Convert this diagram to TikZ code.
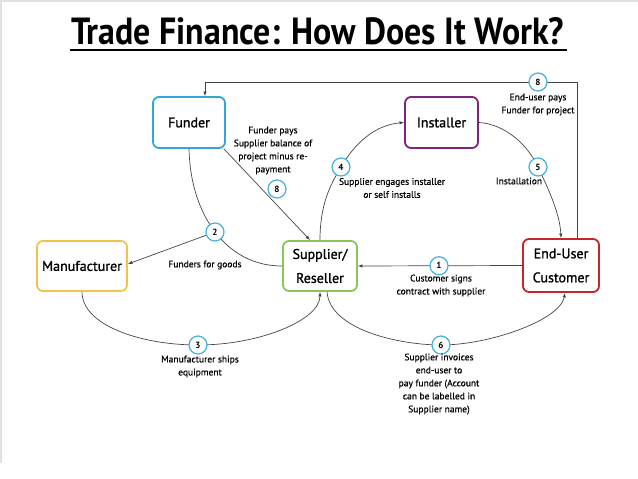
\documentclass[tikz,border=0pt]{standalone}
\usepackage{fontspec}
\usepackage{graphicx}
\setmainfont{PT Sans}
\newfontfamily\heavyfont[FakeBold=1.2]{PT Sans}
\newfontfamily\medfont[FakeBold=0.6]{PT Sans}
\usetikzlibrary{arrows.meta}
\definecolor{funderc}{RGB}{48,168,215}
\definecolor{installc}{RGB}{122,38,128}
\definecolor{manuc}{RGB}{240,196,72}
\definecolor{suppc}{RGB}{140,196,92}
\definecolor{endc}{RGB}{200,36,42}
\definecolor{circc}{RGB}{70,178,220}
\definecolor{linec}{RGB}{70,70,70}
\definecolor{framec}{RGB}{225,225,225}
\tikzset{
  box/.style={draw, rounded corners=6pt, line width=1.8pt, fill=white, align=center,
    font=\heavyfont\fontsize{14}{24}\selectfont, inner sep=0pt},
  num/.style={circle, draw=circc, line width=1.2pt, fill=white, minimum size=18pt,
    inner sep=0pt, font=\fontsize{9}{9}\selectfont\bfseries},
  lbl/.style={align=center, font=\medfont\fontsize{9.5}{13}\selectfont, inner sep=0pt},
  conn/.style={draw=linec, line width=0.7pt},
  arr/.style={-{Latex[length=4.5pt,width=3.5pt]}}
}
\begin{document}
\begin{tikzpicture}[x=1pt,y=-1pt]
\useasboundingbox (0,0) rectangle (638,479);
% frame
\draw[framec, line width=1.2pt] (1,463) -- (1,1) -- (638,1);
% title
\node[anchor=base west, inner sep=0pt] (title) at (71,45)
  {\resizebox{493pt}{27pt}{\bfseries Trade Finance: How Does It Work?}};
\coordinate (ul1) at (70,50);
\coordinate (ul2) at (567,50);
\draw[line width=2pt] (ul1) -- (ul2);
% boxes
\node[box, draw=funderc, minimum width=72pt, minimum height=51pt] (funder) at (189,122.5) {Funder};
\node[box, draw=installc, minimum width=73pt, minimum height=51pt] (installer) at (441.5,122.5) {Installer};
\node[box, draw=manuc, minimum width=90pt, minimum height=50pt] (manu) at (82,266) {Manufacturer};
\node[box, draw=suppc, minimum width=74pt, minimum height=50pt] (supp) at (320,266) {Supplier/\\Reseller};
\node[box, draw=endc, minimum width=76pt, minimum height=53pt] (enduser) at (561,265.5) {End-User\\Customer};
% circle positions
\coordinate (p1) at (439,265.75);
\coordinate (p2) at (215,232);
\coordinate (p3) at (198,345);
\coordinate (p4) at (341,167);
\coordinate (p5) at (538,167);
\coordinate (p6) at (441,345);
\coordinate (p8a) at (538,82);
\coordinate (p8b) at (277,189);
\coordinate (tr) at (577,82);
\coordinate (tl) at (205,82);
% connectors
\draw[conn] (funder.south) .. controls (190,185) and (200,212) .. (p2);
\draw[conn] (p2) .. controls (235,258) and (260,266) .. (supp.west);
\draw[conn,arr] (p2) -- ([yshift=2pt]manu.east);
\draw[conn,arr] ([xshift=-2pt]funder.south east) -- ([xshift=-10pt]supp.north);
\draw[conn,arr] (enduser.west) -- (supp.east);
\draw[conn,arr] (manu.south) .. controls (82,325) and (140,345) .. (p3)
  .. controls (260,345) and (320,320) .. (supp.south);
\draw[conn,arr] ([xshift=7pt]supp.south) .. controls (330,330) and (400,345) .. (p6)
  .. controls (490,345) and (560,320) .. ([xshift=4pt]enduser.south);
\draw[conn,arr] (supp.north) .. controls (320,205) and (330,185) .. (p4)
  .. controls (355,143) and (375,125) .. (installer.west);
\draw[conn,arr] (installer.east) .. controls (505,124) and (528,145) .. (p5)
  .. controls (550,192) and (560,215) .. (enduser.north);
\draw[conn,arr] ([xshift=16pt]enduser.north) -- (tr) -- (tl) -- ([xshift=16pt]funder.north);
% numbered circles
\node[num] (n1) at (p1) {1};
\node[num] (n2) at (p2) {2};
\node[num] (n3) at (p3) {3};
\node[num] (n4) at (p4) {4};
\node[num] (n5) at (p5) {5};
\node[num] (n6) at (p6) {6};
\node[num] (n8a) at (p8a) {8};
\node[num] (n8b) at (p8b) {8};
% labels
\node[lbl] (l8a) at (538,104.5) {End-user pays\\Funder for project};
\node[lbl] (l8b) at (273,150.5) {Funder pays\\Supplier balance of\\project minus re-\\payment};
\node[lbl] (l4) at (392,188) {Supplier engages installer\\or self installs};
\node[lbl] (l5) at (519,181) {Installation};
\node[lbl] (l2) at (205,265) {Funders for goods};
\node[lbl] (l1) at (441,285.5) {Customer signs\\contract with supplier};
\node[lbl] (l3) at (200,366.5) {Manufacturer ships\\equipment};
\node[lbl] (l6) at (439,384) {Supplier invoices\\end-user to\\pay funder (Account\\can be labelled in\\Supplier name)};
\end{tikzpicture}
\end{document}
